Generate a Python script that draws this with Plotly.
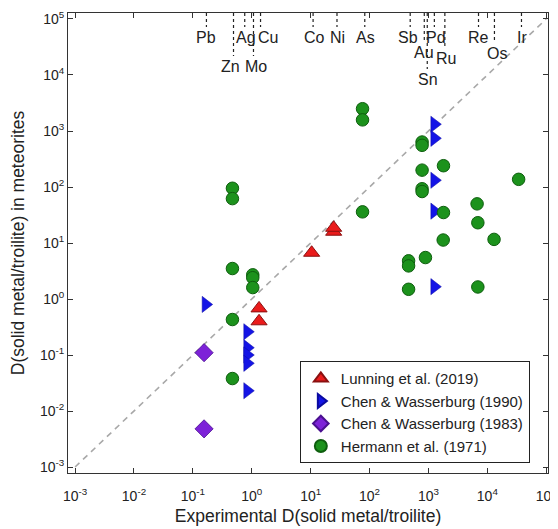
import math
import plotly.graph_objects as go

# ---- data ----
lunning_x = [1.33, 1.33, 10.4, 24.6, 24.6]
lunning_y = [0.68, 0.40, 6.7, 15.9, 18.7]

chen90_x = [0.165, 0.84, 0.84, 0.84, 0.84, 0.84, 1260, 1260, 1260, 1260, 1260]
chen90_y = [0.8, 0.26, 0.135, 0.10, 0.071, 0.023, 1320, 740, 132, 37, 1.66]

chen83_x = [0.155, 0.155]
chen83_y = [0.11, 0.0048]

hermann_x = [0.47, 0.47, 0.47, 1.04, 1.04, 1.04, 0.47, 0.47,
             76, 76, 76,
             780, 780, 780, 780, 780,
             1800, 1800, 1780,
             6700, 6900, 6900, 13000, 34000,
             460, 460, 460, 890]
hermann_y = [95, 62, 3.5, 2.7, 2.4, 1.6, 0.43, 0.038,
             2500, 1580, 36,
             635, 555, 200, 93, 83,
             240, 35, 11.3,
             50, 23, 1.64, 11.6, 137,
             4.8, 3.9, 1.49, 5.5]

elements = ["Pb", "Zn", "Ag", "Mo", "Cu", "Co", "Ni", "As", "Sb", "Au", "Sn", "Pd", "Ru", "Re", "Os", "Ir"]
element_D = [0.17, 0.49, 0.76, 1.07, 1.41, 11, 28, 83, 490, 850, 955, 1260, 1900, 7080, 13200, 38000]
# label depth below top axis (pixels) and horizontal nudge of label text
label_depth = [14, 43, 14, 43, 14, 14, 14, 14, 14, 29, 56, 14, 35, 14, 30, 14]
label_nudge = [0, -3, 1, 3, 7, 1, 1, 1, -2, 0, 1, 2, 1, 0, 3, 1]

tick_vals = [1e-3, 1e-2, 1e-1, 1, 10, 100, 1e3, 1e4, 1e5]
tick_text = ["10<sup>-3</sup>", "10<sup>-2</sup>", "10<sup>-1</sup>", "10<sup>0</sup>", "10<sup>1</sup>",
             "10<sup>2</sup>", "10<sup>3</sup>", "10<sup>4</sup>", "10<sup>5</sup>"]

# ---- figure ----
FONT = "Liberation Sans, Arial, Helvetica, sans-serif"
TXT = "#222222"
# page body has an 8px margin; the figure is sized/margined to compensate
L, R, T, B = 60, 10, 5, 56
W, H = 550, 521
PH = H - T - B

fig = go.Figure()

fig.add_trace(go.Scatter(x=[1e-3, 1e5], y=[1e-3, 1e5], mode="lines",
                         line=dict(color="#a8a8a8", width=1.6, dash="6px,5px"),
                         showlegend=False, hoverinfo="skip"))

fig.add_trace(go.Scatter(x=chen83_x, y=chen83_y, mode="markers", name="Chen & Wasserburg (1983)",
                         legendrank=3,
                         marker=dict(symbol="diamond", size=14, color="#7d22d8",
                                     line=dict(color="#4a1090", width=0.8))))
fig.add_trace(go.Scatter(x=chen90_x, y=chen90_y, mode="markers", name="Chen & Wasserburg (1990)",
                         legendrank=2,
                         marker=dict(symbol="triangle-right", size=14, color="#1414e6",
                                     line=dict(color="#0a0aa0", width=0.5))))
fig.add_trace(go.Scatter(x=lunning_x, y=lunning_y, mode="markers", name="Lunning et al. (2019)",
                         legendrank=1,
                         marker=dict(symbol="triangle-up", size=14, color="#ea1b1b",
                                     line=dict(color="#8a1010", width=1))))
fig.add_trace(go.Scatter(x=hermann_x, y=hermann_y, mode="markers", name="Hermann et al. (1971)",
                         legendrank=4,
                         marker=dict(symbol="circle", size=12.5, color="#1c921c",
                                     line=dict(color="#0e5e0e", width=1))))

# element labels with dotted leader lines
for name, d, depth, nudge in zip(elements, element_D, label_depth, label_nudge):
    y_end = 1 - depth / PH
    fig.add_shape(type="line", xref="x", yref="paper", x0=d, x1=d, y0=1, y1=y_end,
                  line=dict(color="#222222", width=1.2, dash="dot"))
    fig.add_annotation(x=math.log10(d), xref="x", y=y_end, yref="paper", text=name, showarrow=False,
                       yanchor="top", xshift=nudge, yshift=0,
                       font=dict(family=FONT, size=16, color=TXT))

axis_common = dict(type="log", showgrid=False, zeroline=False, automargin=False,
                   showline=True, linecolor="#333333", linewidth=1, mirror="ticks",
                   ticks="inside", ticklen=5, tickcolor="#333333",
                   tickmode="array", tickvals=tick_vals, ticktext=tick_text,
                   tickfont=dict(family=FONT, size=14, color=TXT))

fig.update_xaxes(range=[-3.12, 5.03], ticklabelstandoff=10,
                 title=dict(text="Experimental D(solid metal/troilite)", standoff=6,
                            font=dict(family=FONT, size=17.5, color=TXT)),
                 **axis_common)
fig.update_yaxes(range=[-3.107, 5.107],
                 title=dict(text="D(solid metal/troilite) in meteorites", standoff=12,
                            font=dict(family=FONT, size=17.5, color=TXT)),
                 **axis_common)

fig.update_layout(
    width=W, height=H, margin=dict(l=L, r=R, t=T, b=B),
    paper_bgcolor="white", plot_bgcolor="white",
    legend=dict(x=0.483, y=0.243, xanchor="left", yanchor="top",
                bordercolor="#222222", borderwidth=1, bgcolor="white",
                itemsizing="constant", itemwidth=30, tracegroupgap=0,
                font=dict(family=FONT, size=15, color=TXT)),
    showlegend=True,
)

fig.write_html("out.html")
